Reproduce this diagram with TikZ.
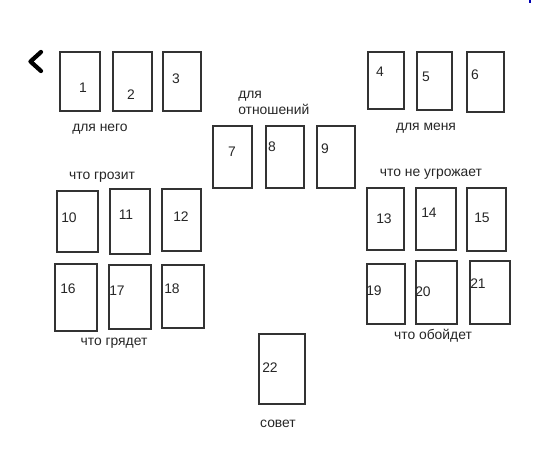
\documentclass[tikz,border=0pt]{standalone}
\usepackage{fontspec}
\setmainfont{Liberation Sans}
\begin{document}
\begin{tikzpicture}[x=0.75pt, y=-0.75pt, font=\fontsize{10.4}{12}\selectfont]
  \useasboundingbox (0,0) rectangle (544,454);
  \tikzset{card/.style={draw=black!80, line width=0.9pt},
    num/.style={inner sep=0pt, text=black!85},
    caption/.style={inner sep=0pt, text=black!85}}
  % ---- back arrow and the small mark in the corner ----
  \coordinate (backtop) at (41,52);
  \coordinate (backtip) at (30.5,61.5);
  \coordinate (backbot) at (41,71);
  \draw[line width=3.2pt, line cap=round, line join=round] (backtop) -- (backtip) -- (backbot);
  \coordinate (marka) at (530,0);
  \coordinate (markb) at (530,3);
  \draw[blue!70!black, line width=1pt] (marka) -- (markb);
  % ---- the 22 card places: number / left / top / right / bottom / number position ----
  \foreach \n/\xl/\yt/\xr/\yb/\tx/\ty in {
    1/60/52/100/111/83/88, 2/113/52/152/111/131/95, 3/163/52/201/111/176/79,
    4/368/52/404/109/380/72, 5/417/52/452/110/426/77, 6/467/52/504/112/475/75,
    7/213/126/252/188/232/152, 8/266/126/304/188/272/147, 9/317/126/355/188/325/149,
    10/57/191/98/252/69/218, 11/110/189/150/254/126/215, 12/162/189/201/251/181/217,
    13/367/188/404/250/384/219, 14/416/188/456/250/429/213, 15/467/188/506/251/482/218,
    16/55/264/97/331/68/289, 17/109/265/151/329/117/291, 18/162/265/204/328/172/289,
    19/367/264/405/324/374/291, 20/416/261/457/324/423/292, 21/470/261/510/324/478/284,
    22/259/334/305/404/270/368} {
    \draw[card] (\xl,\yt) rectangle (\xr,\yb);
    \node[num] (n\n) at (\tx,\ty) {\n};
  }
  % ---- group captions ----
  \node[caption] (forhim) at (100,129) {для него};
  \node[caption] (forme) at (426,128) {для меня};
  \node[caption, anchor=west, align=left] (forrel) at (238,103) {для\\отношений};
  \node[caption] (threat) at (102,177) {что грозит};
  \node[caption] (nothreat) at (431,174) {что не угрожает};
  \node[caption] (coming) at (114,343) {что грядет};
  \node[caption] (passing) at (433,336) {что обойдет};
  \node[caption] (advice) at (278,424) {совет};
\end{tikzpicture}
\end{document}
